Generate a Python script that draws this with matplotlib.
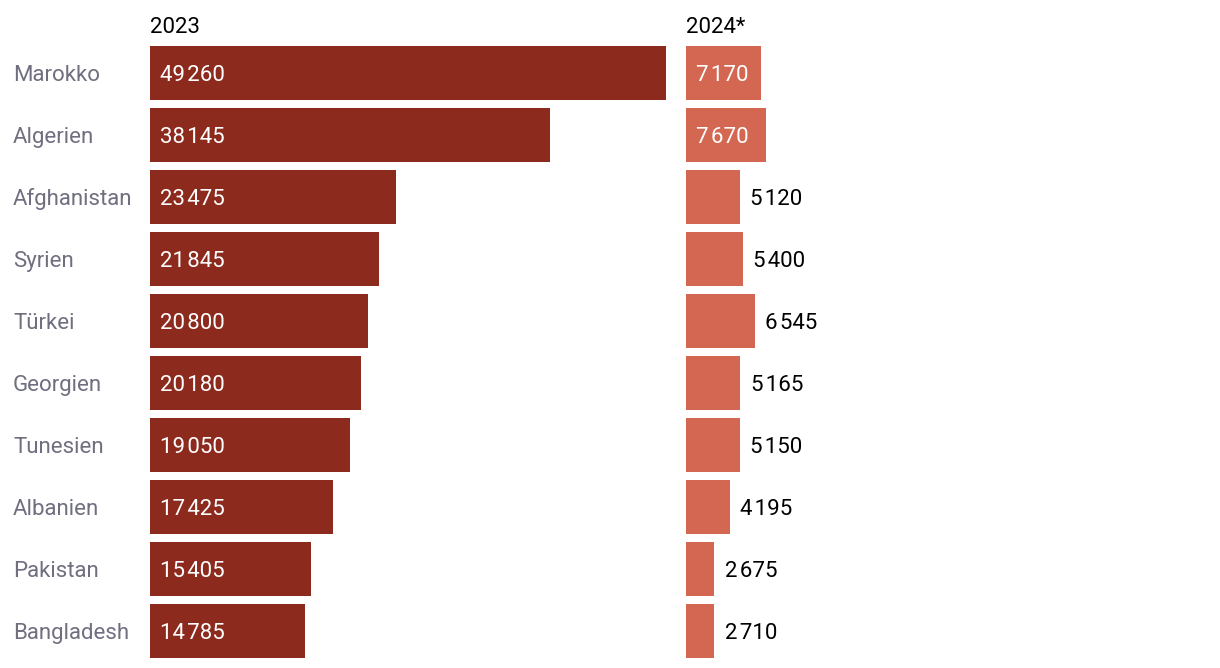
import matplotlib.pyplot as plt

countries = ["Marokko", "Algerien", "Afghanistan", "Syrien", "Türkei",
             "Georgien", "Tunesien", "Albanien", "Pakistan", "Bangladesh"]
values_2023 = [49260, 38145, 23475, 21845, 20800, 20180, 19050, 17425, 15405, 14785]
values_2024 = [7170, 7670, 5120, 5400, 6545, 5165, 5150, 4195, 2675, 2710]
headers = ["2023", "2024*"]

dark = "#8c2a1e"
light = "#d36752"
grey = "#6f6f80"

plt.rcParams['font.family'] = ['Roboto', 'DejaVu Sans']

W, H = 1220, 668
fig = plt.figure(figsize=(W / 100, H / 100), dpi=100)

px_per_unit = 516 / 49260  # same scale for both panels
FS = 16


def fmt(v):
    return f"{v:,}".replace(",", "\u200a")


def panel(x0, x1, vals, color, header, show_names):
    ax = fig.add_axes([x0 / W, 1 - 662 / H, (x1 - x0) / W, 620 / H])
    xmax = (x1 - x0) / px_per_unit
    ax.set_xlim(0, xmax)
    ax.set_ylim(len(vals) - 0.5, -0.5)
    ax.barh(range(len(vals)), vals, height=54 / 62, color=color, left=0)
    off = 10.5 / px_per_unit
    for i, v in enumerate(vals):
        # label inside when the bar is wide enough (~72 px)
        if v * px_per_unit > 72:
            ax.text(off, i, fmt(v), color="white", va="center_baseline", ha="left", fontsize=FS)
        else:
            ax.text(v + off, i, fmt(v), color="black", va="center_baseline", ha="left", fontsize=FS)
    ax.axis("off")
    fig.text(x0 / W, 1 - 25 / H, header, fontsize=FS, color="black", va="center_baseline", ha="left")
    if show_names:
        for i, c in enumerate(countries):
            y = 73 + 62 * i
            fig.text(13 / W, 1 - y / H, c, fontsize=FS, color=grey, va="center_baseline", ha="left")
    return ax


panel(150, 680, values_2023, dark, headers[0], True)
panel(686, 1220, values_2024, light, headers[1], False)

fig.savefig("out.png", dpi=100)
